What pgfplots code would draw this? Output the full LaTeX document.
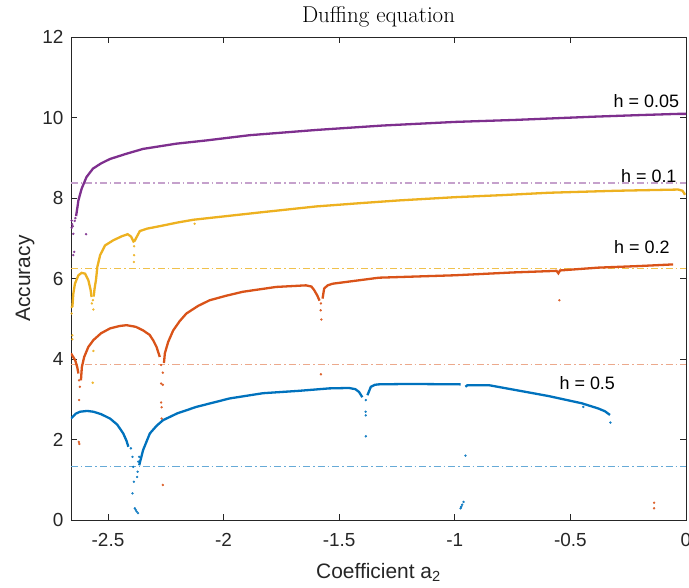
\documentclass[border=0pt]{standalone}
\usepackage{fontspec}
\setsansfont{Liberation Sans}
\usepackage{pgfplots}
\pgfplotsset{compat=1.18}
\definecolor{mblue}{rgb}{0,0.447,0.741}
\definecolor{morange}{rgb}{0.85,0.325,0.098}
\definecolor{myellow}{rgb}{0.929,0.694,0.125}
\definecolor{mpurple}{rgb}{0.494,0.184,0.556}
\begin{document}
\begin{tikzpicture}
\pgfplotsset{
  curve/.style={line width=2.3bp, no marks},
  dots/.style={only marks, mark=*, mark size=1bp, opacity=0.85},
  ref/.style={line width=1.3bp, dash pattern=on 7bp off 3bp on 1.5bp off 3bp},
}
\begin{axis}[
  name=ax, at={(0,0)}, anchor=south west,
  scale only axis, width=615bp, height=483bp,
  xmin=-2.66, xmax=0, ymin=0, ymax=12,
  xtick={-2.5,-2,-1.5,-1,-0.5,0}, xticklabels={-2.5,-2,-1.5,-1,-0.5,0},
  ytick={0,2,4,6,8,10,12}, yticklabels={0,2,4,6,8,10,12},
  tick align=inside, major tick length=6bp,
  axis line style={draw=black!85, line width=0.8bp},
  tick style={draw=black!85, line width=0.8bp},
  ticklabel style={font=\fontsize{19}{22}\selectfont\sffamily, text=black!85},
  xticklabel style={yshift=-10bp},
  yticklabel style={xshift=-4bp},
  xlabel={Coefficient a\textsubscript{2}},
  label style={font=\fontsize{21}{24}\selectfont\sffamily, text=black!85},
  xlabel style={at={(axis description cs:0.5,0)}, anchor=center, yshift=-52bp},
]
% reference lines
\addplot[ref, mpurple!45!white] coordinates {(-2.66,8.37) (0,8.37)};
\addplot[ref, myellow!80!white] coordinates {(-2.66,6.24) (0,6.24)};
\addplot[ref, morange!50!white] coordinates {(-2.66,3.86) (0,3.86)};
\addplot[ref, mblue!60!white] coordinates {(-2.66,1.33) (0,1.33)};

% h = 0.05
\addplot[curve, mpurple] coordinates {(-2.638,7.55) (-2.632,7.78) (-2.628,7.94) (-2.614,8.23) (-2.593,8.52) (-2.565,8.73) (-2.530,8.86) (-2.491,8.97) (-2.420,9.10) (-2.348,9.22) (-2.204,9.35) (-2.075,9.43) (-1.888,9.56) (-1.600,9.69) (-1.313,9.80) (-1.000,9.89) (-0.738,9.94) (-0.400,10.02) (-0.200,10.06) (-0.034,10.09) (0,10.09)};
\addplot[dots, mpurple] coordinates {(-2.657,7.44) (-2.655,7.35) (-2.652,7.30) (-2.657,7.26) (-2.650,7.11) (-2.644,7.43) (-2.646,6.66) (-2.650,6.58) (-2.595,7.10) (-2.641,7.50)};

% h = 0.1
\addplot[curve, myellow] coordinates {(-2.654,5.29) (-2.650,5.62) (-2.643,5.87) (-2.628,6.08) (-2.614,6.14) (-2.599,6.12) (-2.585,5.96) (-2.575,5.71) (-2.571,5.54)};
\addplot[curve, myellow] coordinates {(-2.562,5.55) (-2.558,5.75) (-2.552,5.96) (-2.546,6.29) (-2.534,6.58) (-2.513,6.82) (-2.477,6.95) (-2.440,7.05) (-2.415,7.10) (-2.400,7.04) (-2.390,6.92) (-2.384,6.94) (-2.377,7.02) (-2.362,7.18) (-2.330,7.24) (-2.276,7.30) (-2.200,7.39) (-2.130,7.46) (-1.845,7.64) (-1.600,7.79) (-1.414,7.87) (-1.241,7.94) (-1.000,8.02) (-0.800,8.07) (-0.595,8.13) (-0.300,8.18) (-0.034,8.21) (-0.015,8.18) (-0.004,8.08)};
\addplot[dots, myellow] coordinates {(-2.657,5.13) (-2.657,5.29) (-2.570,5.38) (-2.563,5.23) (-2.565,5.46) (-2.387,6.80) (-2.387,6.58) (-2.388,6.41) (-2.125,7.36) (-2.654,4.59) (-2.654,4.49) (-2.563,4.20) (-2.566,3.41)};

% h = 0.2
\addplot[curve, morange] coordinates {(-2.660,4.14) (-2.642,3.97) (-2.633,3.80) (-2.628,3.64)};
\addplot[curve, morange] coordinates {(-2.617,3.47) (-2.613,3.80) (-2.603,4.05) (-2.585,4.30) (-2.563,4.47) (-2.530,4.64) (-2.491,4.76) (-2.450,4.82) (-2.420,4.84) (-2.380,4.80) (-2.348,4.71) (-2.320,4.60) (-2.305,4.47) (-2.290,4.30) (-2.276,4.05)};
\addplot[curve, morange] coordinates {(-2.258,3.90) (-2.254,4.14) (-2.240,4.42) (-2.218,4.71) (-2.190,4.94) (-2.161,5.13) (-2.110,5.32) (-2.060,5.46) (-1.990,5.57) (-1.917,5.67) (-1.773,5.79) (-1.644,5.83) (-1.620,5.80) (-1.608,5.71) (-1.595,5.58) (-1.585,5.45)};
\addplot[curve, morange] coordinates {(-1.572,5.50) (-1.565,5.75) (-1.550,5.83) (-1.529,5.87) (-1.328,6.02) (-1.000,6.08) (-0.750,6.15) (-0.560,6.19) (-0.552,6.13) (-0.545,6.20) (-0.379,6.27) (-0.200,6.31) (-0.056,6.35)};
\addplot[dots, morange] coordinates {(-2.625,3.47) (-2.622,3.31) (-2.625,2.98) (-2.624,1.89) (-2.626,1.94) (-2.270,3.85) (-2.263,3.66) (-2.270,3.39) (-2.263,3.36) (-2.270,2.92) (-2.268,2.80) (-2.268,2.52) (-2.263,0.87) (-1.579,5.38) (-1.580,5.21) (-1.577,4.98) (-1.579,3.62) (-0.548,5.46) (-0.138,0.43) (-0.138,0.29)};

% h = 0.5
\addplot[curve, mblue] coordinates {(-2.660,2.52) (-2.640,2.64) (-2.621,2.69) (-2.590,2.71) (-2.563,2.69) (-2.530,2.63) (-2.491,2.52) (-2.460,2.37) (-2.434,2.15) (-2.420,1.97) (-2.412,1.82)};
\addplot[dots, mblue] coordinates {(-2.401,1.78) (-2.394,1.57) (-2.391,1.32) (-2.365,1.57) (-2.369,1.45) (-2.372,1.20) (-2.374,1.07) (-2.388,0.95) (-2.394,0.66) (-2.384,0.29) (-2.380,0.25) (-2.376,0.21) (-2.370,0.17) (-1.385,2.98) (-1.386,2.69) (-1.385,2.60) (-1.385,2.08) (-0.954,1.60) (-0.975,0.29) (-0.972,0.33) (-0.968,0.38) (-0.962,0.45) (-0.327,2.42) (-0.444,2.81)};
\addplot[curve, mblue] coordinates {(-2.365,1.36) (-2.348,1.74) (-2.319,2.15) (-2.290,2.34) (-2.262,2.48) (-2.200,2.65) (-2.118,2.81) (-1.974,3.02) (-1.830,3.15) (-1.672,3.21) (-1.543,3.27) (-1.457,3.28) (-1.430,3.25) (-1.414,3.18) (-1.400,3.05)};
\addplot[curve, mblue] coordinates {(-1.378,3.10) (-1.363,3.31) (-1.345,3.36) (-1.328,3.37) (-1.200,3.38) (-0.975,3.37)};
\addplot[curve, mblue] coordinates {(-0.954,3.31) (-0.945,3.35) (-0.853,3.35) (-0.738,3.23) (-0.595,3.08) (-0.451,2.90) (-0.379,2.77) (-0.350,2.70) (-0.329,2.61)};

\node[anchor=east, font=\fontsize{18}{21}\selectfont\sffamily] at (axis cs:-0.015,10.42) {h = 0.05};
\node[anchor=east, font=\fontsize{18}{21}\selectfont\sffamily] at (axis cs:-0.026,8.54) {h = 0.1};
\node[anchor=east, font=\fontsize{18}{21}\selectfont\sffamily] at (axis cs:-0.056,6.77) {h = 0.2};
\node[anchor=center, font=\fontsize{18}{21}\selectfont\sffamily] at (axis cs:-0.427,3.40) {h = 0.5};
\end{axis}
\node[rotate=90, anchor=center, font=\fontsize{21}{24}\selectfont\sffamily, text=black!85] at (-46bp,241.5bp) {Accuracy};
\node[anchor=base, font=\fontsize{23}{27}\selectfont\rmfamily] at (307.5bp,497bp) {Duffing equation};
\pgfresetboundingbox
\useasboundingbox (-71bp,-68bp) rectangle (618bp,520bp);
\end{tikzpicture}
\end{document}
